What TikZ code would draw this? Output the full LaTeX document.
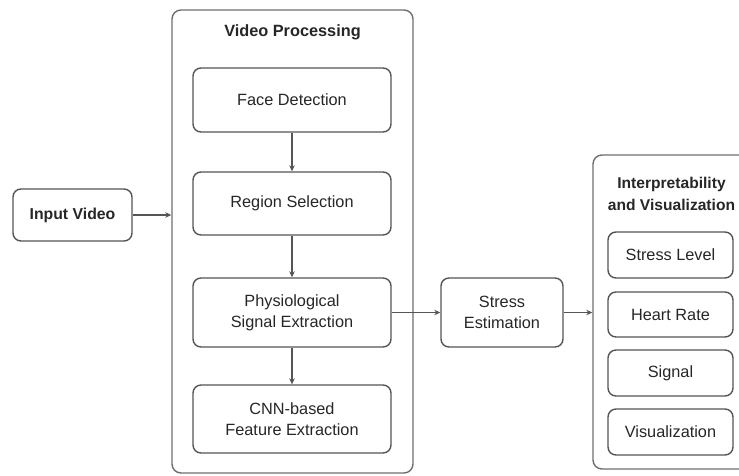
\documentclass[tikz,border=0pt]{standalone}
\usepackage{fontspec}
\setmainfont{Liberation Sans}
\usetikzlibrary{arrows.meta}
\definecolor{boxline}{HTML}{555555}
\definecolor{txt}{HTML}{262626}
\tikzset{
	box/.style={draw=boxline, line width=1.4pt, rounded corners=8pt, align=center, inner sep=0pt, text=txt, font=\fontsize{16.3}{21}\selectfont},
	group/.style={draw=boxline!85, line width=1.4pt, rounded corners=9pt, inner sep=0pt},
	grouptitle/.style={align=center, text=txt, font=\fontsize{15.8}{22}\selectfont\bfseries},
	flow/.style={draw=boxline, line width=1.2pt, -{Stealth[length=6pt,width=5.5pt]}}
}

\begin{document}
\begin{tikzpicture}[x=1pt, y=-1pt]
			%%%%% START %%%%%
			
			\useasboundingbox (0, 0) rectangle (739, 475);
			
			\node[box, font=\fontsize{15.8}{21}\selectfont\bfseries, minimum width=119pt, minimum height=52pt] (input) at (72.5, 215) {Input Video};
			
			\node[group, minimum width=241pt, minimum height=463pt] (vidproc) at (292.5, 241.5) {};
			\node[grouptitle, font=\fontsize{16.3}{22}\selectfont\bfseries] (vidtitle) at (292.5, 32) {Video Processing};
			
			\node[box, minimum width=198pt, minimum height=64pt] (face) at (292, 100) {Face Detection};
			\node[box, minimum width=198pt, minimum height=63pt] (region) at (292, 203.5) {Region Selection};
			\node[box, minimum width=198pt, minimum height=69pt] (physio) at (292, 312.5) {Physiological\\Signal Extraction};
			\node[box, minimum width=198pt, minimum height=68pt] (cnn) at (292, 419) {CNN-based\\Feature Extraction};
			
			\node[box, minimum width=122pt, minimum height=69pt] (stress) at (502, 312.5) {Stress\\Estimation};
			
			\node[group, minimum width=167pt, minimum height=314pt] (interp) at (676.5, 312) {};
			\node[grouptitle, font=\fontsize{15.6}{22}\selectfont\bfseries] (interptitle) at (671.5, 194) {Interpretability\\and Visualization};
			
			\node[box, minimum width=125pt, minimum height=46pt] (level) at (670.5, 255) {Stress Level};
			\node[box, minimum width=125pt, minimum height=45pt] (heart) at (670.5, 314.5) {Heart Rate};
			\node[box, minimum width=125pt, minimum height=46pt] (signal) at (670.5, 373) {Signal};
			\node[box, minimum width=125pt, minimum height=46pt] (visual) at (670.5, 432) {Visualization};
			
			\draw[flow] (input.east) -- (input.east -| vidproc.west);
			\draw[flow] (face) -- (region);
			\draw[flow] (region) -- (physio);
			\draw[flow] (physio) -- (cnn);
			\draw[flow] (physio.east) -- (stress.west);
			\draw[flow] (stress.east) -- (stress.east -| interp.west);
			
			%%%%% END %%%%%
\end{tikzpicture}
\end{document}
